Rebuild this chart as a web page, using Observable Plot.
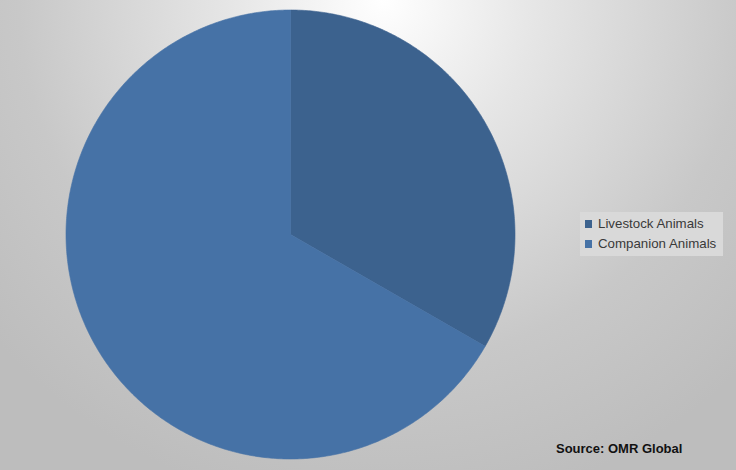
<!DOCTYPE html>
<html>
<head>
<meta charset="utf-8">
<script src="https://cdn.jsdelivr.net/npm/d3@7"></script>
<script src="https://cdn.jsdelivr.net/npm/@observablehq/plot@0.6"></script>
<style>
  html, body { margin: 0; padding: 0; }
  #chart {
    position: relative; width: 736px; height: 470px; overflow: hidden;
    background: radial-gradient(circle farthest-corner at 52% 0%, #ffffff 0%, #e6e6e6 25%, #c8c8c8 60%, #bdbdbd 85%);
  }
  #chart svg { position: absolute; left: 0; top: 0; background: transparent; }
  .legend {
    position: absolute; left: 580px; top: 212px; width: 143px; height: 44px;
    background: #d9d9d9; font-family: "Liberation Sans", Arial, sans-serif; font-size: 13.3px; color: #3a3a3a;
  }
  .legend .row { position: absolute; left: 5px; display: flex; align-items: center; white-space: nowrap; }
  .legend .sw { width: 7px; height: 8px; margin-right: 6px; }
  .source {
    position: absolute; left: 556px; top: 441px; font-family: "Liberation Sans", Arial, sans-serif;
    font-weight: bold; font-size: 13px; color: #111; white-space: nowrap;
  }
</style>
</head>
<body>
<div id="chart"></div>
<script>
const categories = ["Livestock Animals", "Companion Animals"];
const shares = [33.3, 66.7];
const colors = ["#3c628e", "#4672a6"];
const sourceText = "Source: OMR Global";

// Build slice polygons from the shares (clockwise from 12 o'clock)
const total = d3.sum(shares);
const points = [];
let start = 0;
categories.forEach((cat, i) => {
  const end = start + shares[i] / total * 2 * Math.PI;
  points.push({cat, x: 0, y: 0});
  const n = Math.max(2, Math.ceil((end - start) / (Math.PI / 360)));
  for (let k = 0; k <= n; k++) {
    const a = start + (end - start) * k / n;
    points.push({cat, x: Math.sin(a), y: Math.cos(a)});
  }
  points.push({cat, x: 0, y: 0});
  start = end;
});

const W = 736, H = 470, cx = 290, cy = 234, R = 224.5;
const plot = Plot.plot({
  width: W, height: H,
  marginTop: 0, marginRight: 0, marginBottom: 0, marginLeft: 0,
  x: {domain: [-cx / R, (W - cx) / R], axis: null},
  y: {domain: [-(H - cy) / R, cy / R], axis: null},
  color: {domain: categories, range: colors},
  style: {background: "transparent"},
  marks: [
    Plot.line(points, {x: "x", y: "y", z: "cat", fill: "cat", stroke: "cat", strokeWidth: 0.6, curve: "linear"})
  ]
});

const chart = document.getElementById("chart");
chart.appendChild(plot);

const legend = document.createElement("div");
legend.className = "legend";
categories.forEach((c, i) => {
  const row = document.createElement("div");
  row.className = "row";
  row.style.top = (4 + i * 20) + "px";
  row.innerHTML = `<span class="sw" style="background:${colors[i]}"></span><span>${c}</span>`;
  legend.appendChild(row);
});
chart.appendChild(legend);

const src = document.createElement("div");
src.className = "source";
src.textContent = sourceText;
chart.appendChild(src);
</script>
</body>
</html>
